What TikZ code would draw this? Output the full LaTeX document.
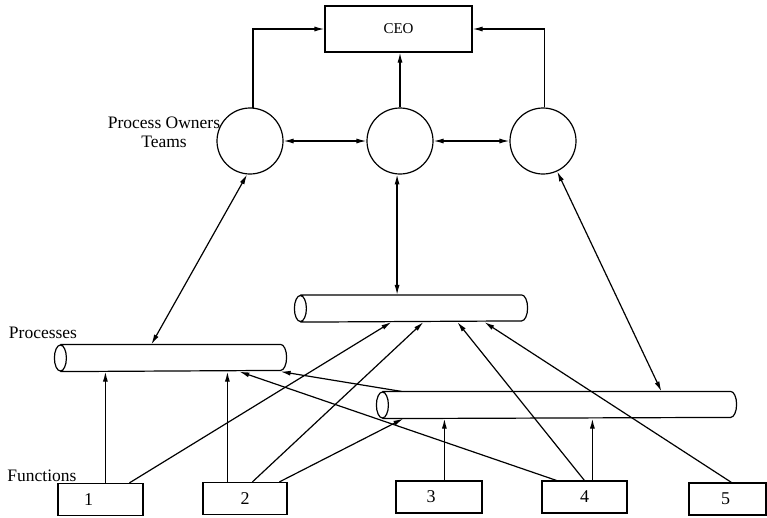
\documentclass[tikz,border=0pt]{standalone}
\usepackage{fontspec}
\setmainfont{Liberation Serif}
\usetikzlibrary{arrows.meta,calc}

% outline of a horizontal pipe: front ellipse on the left, half rim on the right
\newcommand\drawtube[1]{%
  \draw (#1.north west) -- (#1.north east)
        arc[start angle=90,end angle=-90,x radius=6pt,y radius=13pt]
        -- (#1.south west)
        (#1.west) ellipse[x radius=6pt,y radius=13pt];}

\begin{document}
\begin{tikzpicture}[x=1pt,y=-1pt,line width=1.2pt,
  conn/.style={-{Latex[length=10pt,width=5pt]}},
  biconn/.style={{Latex[length=10pt,width=5pt]}-{Latex[length=10pt,width=5pt]}},
  team/.style={circle,draw,minimum size=66pt,inner sep=0pt},
  fbox/.style={rectangle,draw,minimum height=32pt,inner sep=0pt,font=\fontsize{18}{20}\selectfont},
  tube/.style={rectangle,minimum height=26pt,inner sep=0pt},
  lbl/.style={font=\fontsize{17.5}{19}\selectfont,align=center,inner sep=0pt}]

\useasboundingbox (0,0) rectangle (767,517);

% top level
\node[draw,rectangle,minimum width=147pt,minimum height=46pt,
      font=\fontsize{15}{17}\selectfont] (ceo) at (398.5,29) {CEO};

% process owner teams
\node[team] (c1) at (250,141) {};
\node[team] (c2) at (400,141) {};
\node[team] (c3) at (543,141) {};
\node[lbl] (pot) at (164,132) {Process Owners\\Teams};

% processes
\node[tube,minimum width=219pt] (lt) at (170.5,358) {};
\node[tube,minimum width=220pt] (tt) at (411,308.5) {};
\node[tube,minimum width=347pt] (rt) at (556.5,405) {};
\drawtube{lt}
\drawtube{tt}
\drawtube{rt}
\node[lbl] (proc) at (43,333) {Processes};

% functions
\node[fbox,minimum width=85pt] (b1) at (100.5,499.5) {\hspace{-24pt}1};
\node[fbox,minimum width=84pt] (b2) at (245,498.5) {2};
\node[fbox,minimum width=86pt] (b3) at (439,497) {\hspace{-16pt}3};
\node[fbox,minimum width=85pt] (b4) at (584.5,497) {4};
\node[fbox,minimum width=77pt] (b5) at (727.5,499) {\hspace{-4pt}5};
\node[lbl] (func) at (42,476) {Functions};

% ports on the function boxes
\coordinate (b1v) at ($(b1.north west)+(48,0)$);
\coordinate (b1t) at ($(b1.north west)+(72,0)$);
\coordinate (b2v) at ($(b2.north west)+(25,0)$);
\coordinate (b2t) at ($(b2.north west)+(50,0)$);
\coordinate (b2r) at ($(b2.north west)+(77,0)$);
\coordinate (b3v) at ($(b3.north west)+(49,0)$);
\coordinate (b4l) at ($(b4.north west)+(15,0)$);
\coordinate (b4t) at ($(b4.north west)+(43,0)$);
\coordinate (b4v) at ($(b4.north west)+(51,0)$);
\coordinate (b5t) at ($(b5.north west)+(43,0)$);

% ports on the pipes
\coordinate (ltn) at ($(lt.north west)+(91,0)$);
\coordinate (lts) at ($(lt.south west)+(179,0)$);
\coordinate (tt1) at ($(tt.south west)+(91,0)$);
\coordinate (tt2) at ($(tt.south west)+(123,0)$);
\coordinate (tt3) at ($(tt.south west)+(157,0)$);
\coordinate (tt4) at ($(tt.south west)+(184,0)$);
\coordinate (rts) at ($(rt.south west)+(21,0)$);
\coordinate (rtn) at ($(rt.north west)+(279,0)$);
\coordinate (rto) at ($(rt.north west)+(19,0)$);

% reporting lines to the CEO
\draw[conn] (c1.85) |- (ceo.west);
\draw[conn] (c3.87) |- (ceo.east);
\draw[conn] (c2.north) -- (c2.north |- ceo.south);

% links between teams
\draw[biconn] (c1.east) -- (c2.west);
\draw[biconn] (c2.east) -- (c3.west);

% teams to processes
\draw[biconn] (c1.265) -- (ltn);
\draw[biconn] (c2.265) -- (c2.265 |- tt.north);
\draw[biconn] (c3.-65) -- (rtn);

% functions feeding processes
\draw[conn] (b1v) -- (b1v |- lt.south);
\draw[conn] (b1t) -- (tt1);
\draw[conn] (b2v) -- (b2v |- lt.south);
\draw[conn] (b2t) -- (tt2);
\draw[conn] (b2r) -- (rts);
\draw[conn] (b3v) -- (b3v |- rt.south);
\draw[conn] (b4l) -- (lts);
\draw[conn] (b4t) -- (tt3);
\draw[conn] (b4v) -- (b4v |- rt.south);
\draw[conn] (b5t) -- (tt4);
\draw[conn] (rto) -- (lt.south east);

\end{tikzpicture}
\end{document}
